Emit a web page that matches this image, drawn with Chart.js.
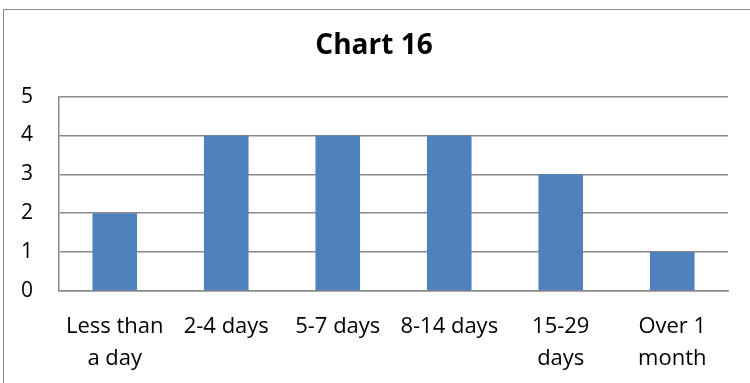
<!DOCTYPE html>
<html>
<head>
<meta charset="utf-8">
<script src="https://cdn.jsdelivr.net/npm/chart.js@4/dist/chart.umd.min.js"></script>
<style>
  html, body { margin: 0; padding: 0; background: #fff; overflow: hidden; }
  #wrap { position: relative; width: 750px; height: 383px; }
  #frame {
    position: absolute; left: 3px; top: 9px; width: 800px; height: 420px;
    border: 1px solid #888; box-sizing: border-box;
  }
  #chart16 { position: absolute; left: 0; top: 0; }
</style>
</head>
<body>
<div id="wrap">
  <div id="frame"></div>
  <canvas id="chart16" width="750" height="383"></canvas>
</div>
<script>
// ---- data ----
const categories = [["Less than", "a day"], "2-4 days", "5-7 days", "8-14 days", ["15-29", "days"], ["Over 1", "month"]];
const counts = [2, 4, 4, 4, 3, 1];
const yTicks = [0, 1, 2, 3, 4, 5];

const FONT = "'Open Sans', sans-serif";
const GRID = "#8a8a8a";

new Chart(document.getElementById("chart16").getContext("2d"), {
  type: "bar",
  data: {
    labels: categories,
    datasets: [{
      label: "Chart 16",
      data: counts,
      backgroundColor: "#4F81BD",
      borderWidth: 0,
      barPercentage: 0.4,
      categoryPercentage: 1,
    }],
  },
  options: {
    responsive: false,
    animation: false,
    // left padding nudges the title right; y labels still fit in the axis box
    layout: { padding: { left: 20, right: 22, top: 0, bottom: 0 } },
    plugins: {
      legend: { display: false },
      tooltip: { enabled: false },
      title: {
        display: true,
        text: "Chart 16",
        color: "#000",
        font: { family: FONT, size: 28, weight: "bold", lineHeight: 1.2 },
        padding: { top: 29, bottom: 34 },
      },
    },
    scales: {
      x: {
        grid: { display: false, drawTicks: false },
        border: { display: true, color: GRID, width: 1.5 },
        ticks: {
          color: "#000",
          font: { family: FONT, size: 22, lineHeight: 1.48 },
          padding: 19,
          maxRotation: 0,
          autoSkip: false,
        },
        afterFit: (s) => { s.height = 92; },
      },
      y: {
        min: 0,
        max: 5,
        afterBuildTicks: (s) => { s.ticks = yTicks.map((v) => ({ value: v })); },
        grid: { color: GRID, lineWidth: 1.5, drawTicks: false },
        border: { display: true, color: GRID, width: 1.5 },
        ticks: {
          color: "#000",
          font: { family: FONT, size: 21 },
          padding: 26,
        },
        afterFit: (s) => { s.width = 39; },
      },
    },
  },
});
</script>
</body>
</html>
